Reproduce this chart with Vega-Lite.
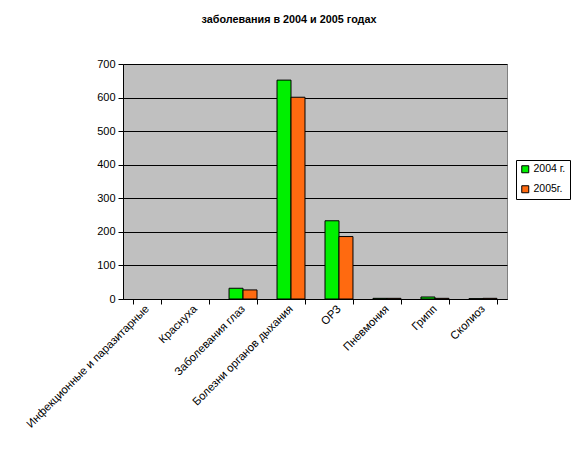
{
  "$schema": "https://vega.github.io/schema/vega-lite/v6.json",
  "width": 384,
  "height": 235,
  "autosize": {"type": "none"},
  "padding": {"left": 123, "top": 64, "right": 73, "bottom": 156},
  "background": "white",
  "title": {
    "text": "заболевания в 2004 и 2005 годах",
    "font": "Liberation Sans",
    "fontSize": 10.8,
    "fontWeight": "bold",
    "color": "black",
    "anchor": "middle",
    "frame": "group",
    "dx": -26,
    "offset": 33
  },
  "config": {
    "view": {"fill": "#C0C0C0", "stroke": "#808080", "strokeWidth": 1},
    "font": "Liberation Sans"
  },
  "data": {
    "values": [
      {"category": "Инфекционные  и паразитарные", "year": "2004 г.", "value": 0},
      {"category": "Инфекционные  и паразитарные", "year": "2005г.", "value": 0},
      {"category": "Краснуха", "year": "2004 г.", "value": 0},
      {"category": "Краснуха", "year": "2005г.", "value": 0},
      {"category": "Заболевания глаз", "year": "2004 г.", "value": 32},
      {"category": "Заболевания глаз", "year": "2005г.", "value": 27},
      {"category": "Болезни органов дыхания", "year": "2004 г.", "value": 652},
      {"category": "Болезни органов дыхания", "year": "2005г.", "value": 601},
      {"category": "ОРЗ", "year": "2004 г.", "value": 233},
      {"category": "ОРЗ", "year": "2005г.", "value": 186},
      {"category": "Пневмония", "year": "2004 г.", "value": 2},
      {"category": "Пневмония", "year": "2005г.", "value": 2},
      {"category": "Грипп", "year": "2004 г.", "value": 6},
      {"category": "Грипп", "year": "2005г.", "value": 2},
      {"category": "Сколиоз", "year": "2004 г.", "value": 1},
      {"category": "Сколиоз", "year": "2005г.", "value": 2}
    ]
  },
  "layer": [
    {
      "mark": {"type": "bar", "stroke": "black"},
      "encoding": {
        "x": {
          "field": "category",
          "type": "nominal",
          "sort": null,
          "scale": {"paddingInner": 0.417, "paddingOuter": 0.21},
          "axis": {
            "title": null,
            "labelAngle": -45,
            "labelAlign": "right",
            "labelBaseline": "middle",
            "labelFontSize": 11.3,
            "labelColor": "black",
            "labelFont": "Liberation Sans",
            "labelPadding": 3,
            "domainColor": "black",
            "tickColor": "black",
            "tickBand": "extent",
            "tickSize": 5,
            "labelLimit": 300
          }
        },
        "xOffset": {"field": "year", "type": "nominal", "scale": {"paddingInner": 0, "paddingOuter": 0}},
        "y": {
          "field": "value",
          "type": "quantitative",
          "scale": {"domain": [0, 700]},
          "axis": {
            "title": null,
            "values": [0, 100, 200, 300, 400, 500, 600, 700],
            "labelFontSize": 11,
            "labelColor": "black",
            "labelFont": "Liberation Sans",
            "domainColor": "black",
            "tickColor": "black",
            "tickSize": 5,
            "labelPadding": 3,
            "grid": true,
            "gridColor": "black",
            "gridOpacity": 1
          }
        },
        "strokeWidth": {
          "condition": {"test": "datum.value == 0", "value": 0},
          "value": 1
        },
        "fill": {
          "field": "year",
          "type": "nominal",
          "scale": {"domain": ["2004 г.", "2005г."], "range": ["#00F000", "#FF6A10"]},
          "legend": {
            "title": null,
            "orient": "none",
            "legendX": 393,
            "legendY": 96,
            "symbolType": "square",
            "symbolSize": 49,
            "symbolStrokeColor": "black",
            "symbolStrokeWidth": 1,
            "labelFontSize": 10.5,
            "labelColor": "black",
            "labelFont": "Liberation Sans",
            "labelOffset": 3,
            "strokeColor": "black",
            "fillColor": "white",
            "padding": 4,
            "rowPadding": 8,
            "symbolOffset": 0
          }
        }
      }
    }
  ]
}
